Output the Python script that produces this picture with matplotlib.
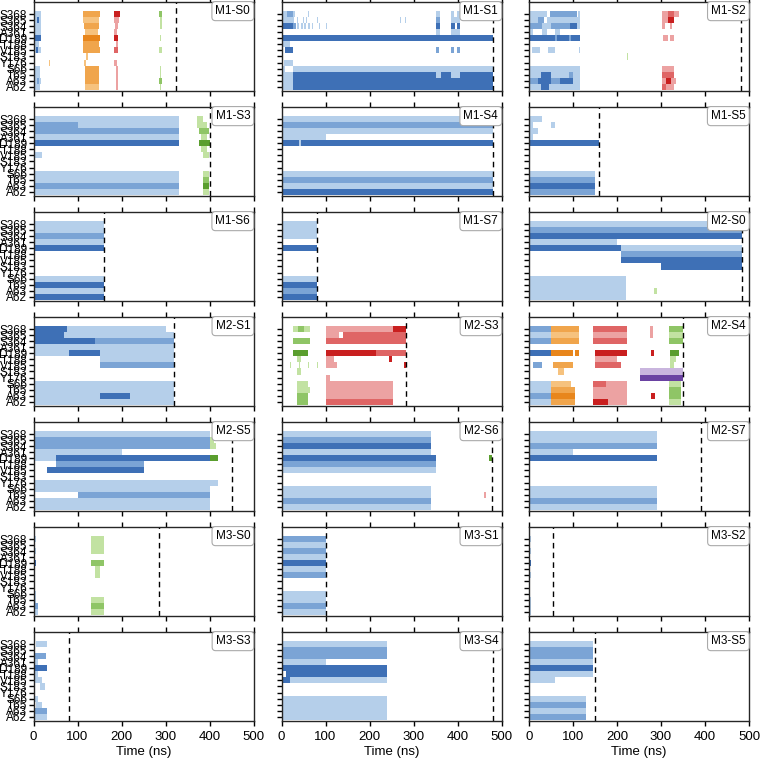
import matplotlib
matplotlib.use("Agg")
import matplotlib.pyplot as plt

plt.rcParams["font.family"] = ["Liberation Sans", "DejaVu Sans"]

# resíduos de cima para baixo
RESIDUOS = ["S368", "S365", "S364", "A361", "D189", "T188", "V185",
            "S183", "Y176", "S66", "T65", "A63", "A62"]

# código -> cor (minúscula = clara, maiúscula = escura)
CORES = {
    "1": "#b5cfea", "2": "#7ba4d5", "3": "#3e70b6",
    "o": "#f6c27e", "q": "#f0a54c", "O": "#e8861c",
    "r": "#eca2a2", "s": "#df6565", "R": "#c91f1f",
    "g": "#c2e2a2", "h": "#8fc566", "G": "#5a9e2e",
    "p": "#c9b5de", "P": "#6a42a2",
}

# cada linha: "inicio-fim:codigo" em ns
M1_S0 = ["0-16:1 112-150:q 182-196:R 286-292:h",
         "0-8:1 8-12:3 12-18:1 113-148:o 184-195:r 287-291:g",
         "0-16:1 115-148:q 185-192:r 288-292:g",
         "0-16:1 116-146:o 184-190:r",
         "0-16:3 113-150:O 183-193:R 287-290:g",
         "0-12:1 113-148:q 187-193:r",
         "0-5:1 5-10:3 10-17:1 113-150:q 184-193:s 285-293:g",
         "120-124:o",
         "35-37:o 114-120:o 183-190:r",
         "2-14:1 116-148:q 188-191:r 287-290:g",
         "0-15:1 117-148:q 188-192:r 287-290:g",
         "0-8:1 8-12:2 12-16:1 117-148:q 188-193:r 286-291:h",
         "0-15:1 117-148:o 188-192:r 287-290:g"]
M1_S1 = ["0-12:1 12-25:2 27-30:1 60-62:1 352-360:1 385-392:1 398-406:1 474-476:1",
         "0-25:1 27-29:1 35-37:1 48-50:1 55-57:1 80-82:1 269-272:1 280-282:1 352-360:2 385-406:1",
         "0-25:3 27-32:2 35-40:1 45-48:1 52-56:1 60-64:1 70-72:1 85-88:1 100-104:1 352-360:3 385-395:3 398-406:3",
         "352-360:1 385-406:1",
         "0-481:3",
         "0-20:1",
         "8-25:3 352-358:2 385-392:2 398-405:2",
         "",
         "5-25:1",
         "0-8:1 25-481:1",
         "0-25:1 25-350:3 350-362:1 362-385:3 385-405:1 405-481:3",
         "0-25:1 25-481:3",
         "0-25:1 25-481:3"]
M1_S2 = ["0-40:1 48-110:2 112-116:1 224-226:g 303-315:r 315-330:s 330-340:r",
         "0-20:1 20-35:2 40-116:1 303-315:r 315-330:R",
         "0-30:2 30-50:1 50-93:2 93-108:3 108-116:1 303-310:r 320-325:r",
         "0-10:1 30-40:1 60-70:1",
         "0-59:3 59-63:2 63-90:3 90-95:2 95-116:3 305-315:r 320-330:r",
         "",
         "6-25:1 44-59:1 113-116:1",
         "222-224:g",
         "",
         "0-116:1 303-330:r",
         "0-28:1 28-50:3 50-90:1 90-100:2 100-116:1 303-330:s",
         "0-20:2 20-50:3 50-70:2 70-100:3 100-116:1 303-312:r 312-322:R 322-335:r",
         "0-28:1 28-45:3 45-116:1 303-312:s 312-330:r"]
M1_S3 = ["0-330:1 372-385:g", "0-100:2 100-330:1 372-395:g", "0-330:2 375-398:h",
         "0-330:1 380-395:g", "0-330:3 375-400:G", "380-395:g", "0-20:1 385-398:g",
         "", "", "0-330:1 385-398:g", "0-330:1 385-398:h", "0-330:2 385-398:G",
         "0-330:1 385-398:g"]
M1_S4 = ["0-480:1", "0-480:2", "0-480:1", "0-100:1", "0-40:3 40-44:1 44-480:3",
         "", "", "", "", "0-480:1", "0-480:2", "0-480:1", "0-480:3"]
M1_S5 = ["0-30:1", "0-10:1 50-60:1", "0-20:1", "0-10:1", "0-160:3",
         "", "", "", "", "0-150:1", "0-150:2", "0-150:3", "0-150:2"]
M1_S6 = ["0-160:1", "0-160:1", "0-160:2", "0-160:1", "0-160:3",
         "", "", "", "", "0-160:1", "0-160:3", "0-160:1", "0-160:3"]
M1_S7 = ["0-80:1", "0-80:1", "0-80:1", "", "0-80:3",
         "", "", "", "", "0-80:1", "0-80:3", "0-80:2", "0-80:3"]
M2_S0 = ["0-485:1", "0-485:2", "0-485:3", "0-200:1", "0-210:3 210-485:1",
         "210-485:2", "210-485:3", "300-485:3", "", "0-220:1", "0-220:1",
         "0-220:1 285-290:g", "0-220:1"]
M2_S1 = ["0-75:3 75-300:1", "0-70:3 70-320:1", "0-140:3 140-320:2", "0-320:1",
         "0-80:1 80-150:3 150-320:1", "150-320:1", "150-320:2", "", "",
         "0-320:1", "0-320:1", "0-150:1 150-220:3 220-320:1", "0-320:1"]
M2_S3 = ["27-38:g 38-50:h 50-65:g 100-254:r 254-282:R",
         "100-130:r 140-282:s",
         "27-65:h 100-282:s",
         "",
         "27-60:G 100-215:R 215-282:s",
         "35-45:g 102-120:r 245-252:R",
         "20-22:g 40-42:g 60-62:g 80-82:g 100-125:r 278-282:R",
         "35-45:g",
         "100-110:r",
         "35-60:g 100-254:r",
         "35-65:g 100-254:r",
         "35-60:h 100-254:r",
         "35-60:h 100-254:s"]
M2_S4 = ["0-51:2 51-114:q 146-223:s 275-282:r 318-349:h",
         "0-51:1 51-114:o 146-223:r 275-282:r 318-349:g",
         "0-51:2 51-114:q 146-223:s 318-349:h",
         "",
         "0-51:3 51-100:O 104-114:O 150-223:R 277-285:R 320-340:G",
         "150-200:r 320-335:g",
         "10-30:2 55-100:q 150-210:s 320-330:g",
         "65-80:o 252-349:p",
         "252-349:P",
         "0-51:1 51-95:o 146-175:s 175-223:r 318-345:g",
         "0-51:1 51-105:q 146-223:r 318-345:h",
         "0-51:2 51-105:O 146-223:r 278-287:R 318-345:h",
         "0-51:1 51-105:q 146-180:R 180-223:r 318-345:g"]
M2_S5 = ["0-400:1", "0-400:2 400-410:g", "0-400:2 400-415:g", "0-200:1",
         "0-50:1 50-400:3 400-420:G", "50-250:2", "30-250:3", "", "0-420:1",
         "0-400:1", "100-400:2", "0-400:1", "0-400:1"]
M2_S6 = ["0-340:1", "0-340:2", "0-340:3 350-352:o", "0-340:1", "0-350:3 472-478:G",
         "0-350:2", "0-350:1", "", "", "0-340:1", "0-340:1 460-465:r",
         "0-340:2", "0-340:1"]
M2_S7 = ["0-290:1", "0-290:1", "0-290:2", "0-100:1", "0-290:3",
         "", "", "", "", "0-290:1", "0-290:1", "0-290:2", "0-290:1"]
M3_S0 = ["0-5:1 130-160:g", "130-160:g", "0-5:1 130-160:g", "", "0-5:3 130-160:h",
         "140-150:g", "140-150:g", "", "", "0-5:1", "0-5:1 130-160:g",
         "0-10:2 130-160:h", "0-10:1 130-160:g"]
M3_S1 = ["0-100:2", "0-100:1", "0-100:2", "0-100:1", "0-100:3", "0-100:1", "0-100:2",
         "", "", "0-100:1", "0-100:1", "0-100:2", "0-100:1"]
M3_S2 = ["0-4:1", "", "0-4:1", "", "0-4:3", "", "0-4:1", "", "", "", "0-4:1",
         "0-4:1", "0-4:1"]
M3_S3 = ["5-30:1", "", "0-28:2", "0-10:1", "0-30:3", "0-10:1", "0-20:1",
         "15-25:1", "", "0-10:1", "5-20:1", "0-30:2", "0-30:1"]
M3_S4 = ["0-240:1", "0-240:2", "0-240:2", "0-100:1", "0-240:3", "10-240:3",
         "0-20:3 20-240:1", "", "", "0-240:1", "0-240:1", "0-240:1", "0-240:1"]
M3_S5 = ["0-145:1", "0-145:2", "0-145:2", "0-145:1", "0-145:3", "0-145:1", "0-60:1",
         "", "", "0-130:1", "0-130:2", "0-130:1", "0-130:2"]

NOMES = ["M1-S0", "M1-S1", "M1-S2", "M1-S3", "M1-S4", "M1-S5", "M1-S6",
         "M1-S7", "M2-S0", "M2-S1", "M2-S3", "M2-S4", "M2-S5", "M2-S6",
         "M2-S7", "M3-S0", "M3-S1", "M3-S2", "M3-S3", "M3-S4", "M3-S5"]
DADOS = [M1_S0, M1_S1, M1_S2, M1_S3, M1_S4, M1_S5, M1_S6, M1_S7, M2_S0,
         M2_S1, M2_S3, M2_S4, M2_S5, M2_S6, M2_S7, M3_S0, M3_S1, M3_S2,
         M3_S3, M3_S4, M3_S5]
# fim de cada simulação (linha tracejada), ns
FIM_NS = [323, 481, 482, 400, 480, 160, 160, 80, 485, 320, 282, 349,
          450, 478, 390, 285, 100, 55, 80, 480, 150]


def _desenhar(ax, linhas):
    n = len(linhas)
    for i, linha in enumerate(linhas):
        y = n - 1 - i
        for tok in linha.split():
            faixa, cod = tok.split(":")
            a, b = (float(v) for v in faixa.split("-"))
            ax.barh(y, b - a, left=a, height=1.0, color=CORES[cod],
                    linewidth=0)


W, H = 760, 761
fig = plt.figure(figsize=(W / 100, H / 100), dpi=100)
col_x = [33.5, 281.5, 529]
larg, alt = 220, 89

for k, (nome, linhas, fim) in enumerate(zip(NOMES, DADOS, FIM_NS)):
    lin, col = divmod(k, 3)
    topo = 2 + 105 * lin
    ax = fig.add_axes([col_x[col] / W, 1 - (topo + alt) / H, larg / W, alt / H])
    _desenhar(ax, linhas)
    ax.axvline(fim, color="black", linestyle=(0, (4, 3)), linewidth=1.0)
    ax.set_xlim(0, 500)
    ax.set_ylim(-0.7, 14.0)
    ax.set_yticks(range(len(RESIDUOS)))
    if col == 0:
        ax.set_yticklabels(RESIDUOS[::-1], fontsize=8.5)
    else:
        ax.set_yticklabels([])
    ax.set_xticks(range(0, 501, 100))
    ax.tick_params(axis="x", which="both", top=True, bottom=True,
                   direction="out", length=3.5, width=1.0, labelsize=9.5)
    ax.tick_params(axis="y", direction="out", length=3.5, width=1.0, pad=1)
    if lin < 6:
        ax.set_xticklabels([])
    else:
        ax.set_xlabel("Time (ns)", fontsize=9.5, labelpad=2)
    for sp in ax.spines.values():
        sp.set_color("#262626")
        sp.set_linewidth(1.0)
    ax.text(0.985, 0.965, nome, transform=ax.transAxes, ha="right", va="top",
            fontsize=8.5, zorder=5,
            bbox=dict(boxstyle="round,pad=0.3", fc="white", ec="#aaaaaa", lw=0.8))

fig.savefig("out.png", dpi=100, facecolor="white")
